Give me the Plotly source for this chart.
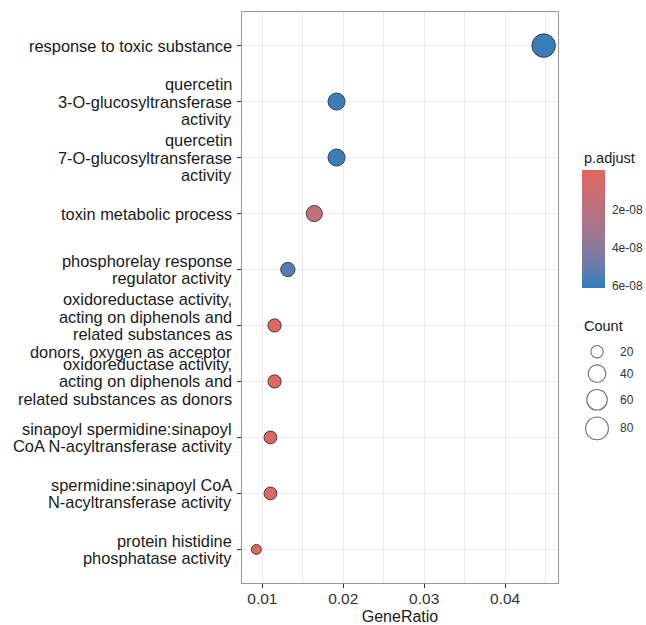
import plotly.graph_objects as go
import numpy as np

# ---------------- data (top to bottom) ----------------
terms = [
    "response to toxic substance",
    "quercetin<br>3-O-glucosyltransferase<br>activity",
    "quercetin<br>7-O-glucosyltransferase<br>activity",
    "toxin metabolic process",
    "phosphorelay response<br>regulator activity",
    "oxidoreductase activity,<br>acting on diphenols and<br>related substances as<br>donors, oxygen as acceptor",
    "oxidoreductase activity,<br>acting on diphenols and<br>related substances as donors",
    "sinapoyl spermidine:sinapoyl<br>CoA N-acyltransferase activity",
    "spermidine:sinapoyl CoA<br>N-acyltransferase activity",
    "protein histidine<br>phosphatase activity",
]
gene_ratio = [0.04476, 0.01917, 0.01917, 0.01642, 0.01315, 0.01151, 0.01151, 0.01100, 0.01100, 0.00926]
counts = [87, 37, 37, 32, 25, 22, 22, 21, 21, 18]
p_adjust = [5.95e-08, 5.85e-08, 5.85e-08, 1.7e-08, 5.4e-08, 8e-10, 9e-10, 8e-10, 8e-10, 7e-10]

count_breaks = [20, 40, 60, 80]
padj_breaks = [2e-08, 4e-08, 6e-08]
padj_break_labels = ["2e-08", "4e-08", "6e-08"]
x_ticks = [0.01, 0.02, 0.03, 0.04]
x_tick_labels = ["0.01", "0.02", "0.03", "0.04"]

LOW_COL = "#e06663"
HIGH_COL = "#327eba"
FONT = "Liberation Sans, Arial, sans-serif"

# ---------------- helpers ----------------
def hex2rgb(h):
    h = h.lstrip("#")
    return [int(h[i:i + 2], 16) / 255 for i in (0, 2, 4)]

def srgb2lin(c):
    return c / 12.92 if c <= 0.04045 else ((c + 0.055) / 1.055) ** 2.4

def lin2srgb(c):
    c = min(max(c, 0), 1)
    return 12.92 * c if c <= 0.0031308 else 1.055 * c ** (1 / 2.4) - 0.055

M = np.array([[0.4124, 0.3576, 0.1805], [0.2126, 0.7152, 0.0722], [0.0193, 0.1192, 0.9505]])
Minv = np.linalg.inv(M)
WP = np.array([0.95047, 1.0, 1.08883])

def f(t):
    return t ** (1 / 3) if t > (6 / 29) ** 3 else t / (3 * (6 / 29) ** 2) + 4 / 29

def finv(t):
    return t ** 3 if t > 6 / 29 else 3 * (6 / 29) ** 2 * (t - 4 / 29)

def rgb2lab(rgb):
    xyz = M @ np.array([srgb2lin(c) for c in rgb]) / WP
    fx, fy, fz = [f(v) for v in xyz]
    return np.array([116 * fy - 16, 500 * (fx - fy), 200 * (fy - fz)])

def lab2rgb(lab):
    L, a, b = lab
    fy = (L + 16) / 116
    fx = fy + a / 500
    fz = fy - b / 200
    xyz = np.array([finv(fx), finv(fy), finv(fz)]) * WP
    lin = Minv @ xyz
    return [lin2srgb(c) for c in lin]

lab_lo = rgb2lab(hex2rgb(LOW_COL))
lab_hi = rgb2lab(hex2rgb(HIGH_COL))

pmin, pmax = min(p_adjust), max(p_adjust)
ext = 0.025 * (pmax - pmin)
cmin_v, cmax_v = -(pmax + ext), -(pmin - ext)

# colorscale over -p: s=0 -> high p (blue), s=1 -> low p (red)
colorscale = []
for s in np.linspace(0, 1, 21):
    pval = -(cmin_v + s * (cmax_v - cmin_v))
    t = (pval - pmin) / (pmax - pmin)
    t = min(max(t, 0), 1)
    lab = lab_lo + t * (lab_hi - lab_lo)
    r, g, b = lab2rgb(lab)
    colorscale.append([float(s), "rgb(%d,%d,%d)" % (round(r * 255), round(g * 255), round(b * 255))])

cmin_c, cmax_c = min(counts), max(counts)
D_MIN, D_RANGE = 10.0, 13.5

def diam(c):
    v = (c - cmin_c) / (cmax_c - cmin_c)
    v = min(max(v, 0), 1)
    return D_MIN + D_RANGE * np.sqrt(v)

# ---------------- layout geometry ----------------
W, H = 646, 625
ML, MT, MB = 242, 12, 42
PLOT_R = 558
paper_w = W - ML
paper_h = H - MT - MB
xdom_end = (PLOT_R - ML) / paper_w

n = len(terms)
cats = [str(i) for i in range(n)]

xr = max(gene_ratio) - min(gene_ratio)
x_range = [min(gene_ratio) - 0.05 * xr, max(gene_ratio) + 0.05 * xr]

fig = go.Figure()

fig.add_trace(go.Scatter(
    x=gene_ratio, y=cats, mode="markers",
    marker=dict(
        size=[diam(c) for c in counts],
        color=[-p for p in p_adjust],
        colorscale=colorscale, cmin=cmin_v, cmax=cmax_v,
        line=dict(color="#333333", width=0.9),
        opacity=1,
        colorbar=dict(
            x=(582 - ML) / paper_w, xanchor="left", xpad=0,
            y=(MT + paper_h - 229) / paper_h, yanchor="middle", ypad=0,
            lenmode="pixels", len=118, thickness=23,
            outlinewidth=0,
            tickvals=[-v for v in padj_breaks], ticktext=padj_break_labels,
            ticks="outside", ticklen=5, tickcolor="rgba(255,255,255,0)", tickwidth=1,
            tickfont=dict(family=FONT, size=12, color="#333333"),
        ),
    ),
    showlegend=False, hoverinfo="skip",
))

# size legend (manual) on a second axis expressed in pixels
key_h = [diam(c) + 7 for c in count_breaks]
centers = []
acc = 41.7 - key_h[0] / 2
for h in key_h:
    centers.append(acc + h / 2)
    acc += h
leg_top, leg_bot = 310, 450
fig.add_trace(go.Scatter(
    x=[27] * len(count_breaks), y=centers, mode="markers", xaxis="x2", yaxis="y2",
    marker=dict(size=[diam(c) for c in count_breaks], color="rgba(0,0,0,0)",
                line=dict(color="#333333", width=1.1)),
    showlegend=False, hoverinfo="skip",
))

annotations = []
for c, yc in zip(count_breaks, centers):
    annotations.append(dict(x=48, y=yc, xref="x2", yref="y2", text=str(c), showarrow=False,
                            xanchor="left", yanchor="middle",
                            font=dict(family=FONT, size=12, color="#333333")))
annotations.append(dict(x=12, y=16, xref="x2", yref="y2", text="Count", showarrow=False,
                        xanchor="left", yanchor="middle",
                        font=dict(family=FONT, size=14.5, color="#1a1a1a")))
annotations.append(dict(x=(582 - ML) / paper_w, y=(MT + paper_h - 158) / paper_h, xref="paper", yref="paper",
                        text="p.adjust", showarrow=False, xanchor="left", yanchor="middle",
                        font=dict(family=FONT, size=14.5, color="#1a1a1a")))

# y tick labels as per-line annotations for ggplot-like line spacing
LINE_H = 17.5
for cat, lab in zip(cats, terms):
    lines = lab.split("<br>")
    k = len(lines)
    for i, ln in enumerate(lines):
        annotations.append(dict(
            x=0, y=cat, xref="paper", yref="y", text=ln, showarrow=False,
            xanchor="right", yanchor="middle", xshift=-8,
            yshift=((k - 1) / 2 - i) * LINE_H,
            font=dict(family=FONT, size=16.4, color="#1a1a1a"),
        ))

fig.update_layout(
    width=W, height=H,
    margin=dict(l=ML, r=0, t=MT, b=MB),
    paper_bgcolor="white", plot_bgcolor="white",
    xaxis=dict(
        domain=[0, xdom_end], range=x_range,
        tickvals=x_ticks, ticktext=x_tick_labels,
        showgrid=True, gridcolor="#ebebeb", gridwidth=1.1,
        minor=dict(dtick=0.005, tick0=0, showgrid=True, gridcolor="#ebebeb", gridwidth=0.6, ticks=""),
        ticks="outside", ticklen=4, tickcolor="#333333", tickwidth=1,
        ticklabelstandoff=-3,
        showline=True, linecolor="#999999", linewidth=1, mirror=True,
        zeroline=False,
        tickfont=dict(family=FONT, size=15.5, color="#333333"),
        title=dict(text="GeneRatio", standoff=6,
                   font=dict(family=FONT, size=16, color="#1a1a1a")),
    ),
    yaxis=dict(
        domain=[0, 1], type="category", categoryarray=cats, categoryorder="array",
        range=[n - 1 + 0.6, -0.6],
        showticklabels=False,
        showgrid=True, gridcolor="#ebebeb", gridwidth=1.1,
        ticks="outside", ticklen=4, tickcolor="#333333", tickwidth=1,
        showline=True, linecolor="#999999", linewidth=1, mirror=True,
        zeroline=False,
    ),
    xaxis2=dict(domain=[(570 - ML) / paper_w, 1.0], range=[0, W - 570], anchor="y2",
                visible=False, fixedrange=True),
    yaxis2=dict(domain=[(MT + paper_h - leg_bot) / paper_h, (MT + paper_h - leg_top) / paper_h],
                range=[leg_bot - leg_top, 0], anchor="x2", visible=False, fixedrange=True),
    annotations=annotations,
    showlegend=False,
)

fig.write_html("out.html")
